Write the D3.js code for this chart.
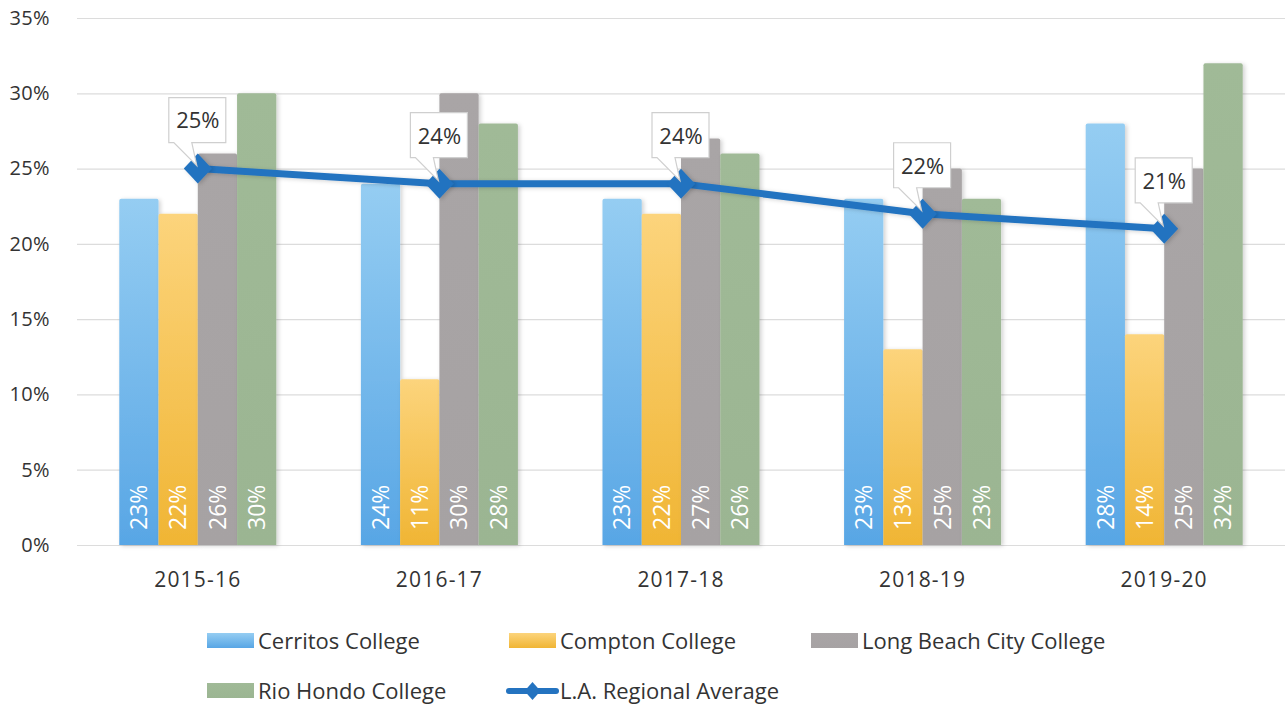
<!DOCTYPE html>
<html>
<head>
<meta charset="utf-8">
<script src="https://cdn.jsdelivr.net/npm/d3@7"></script>
<style>
  body { margin: 0; background: #fff; }
  text { font-family: "Open Sans", "Noto Sans", sans-serif; }
</style>
</head>
<body>
<svg id="chart" width="1287" height="711"></svg>
<script>
let years = ["2015-16", "2016-17", "2017-18", "2018-19", "2019-20"];
let colleges = ["Cerritos College", "Compton College", "Long Beach City College", "Rio Hondo College"];
let cerritos = [23, 24, 23, 23, 28];
let compton = [22, 11, 22, 13, 14];
let longBeach = [26, 30, 27, 25, 25];
let rioHondo = [30, 28, 26, 23, 32];
let regionalAvg = [25, 24, 24, 22, 21];
let yTicks = [0, 5, 10, 15, 20, 25, 30, 35];

let seriesValues = [cerritos, compton, longBeach, rioHondo];
let gradStops = [["#95cdf2", "#58a6e5"], ["#fcd47c", "#f0b534"], ["#a9a5a6", "#a6a2a3"], ["#a0ba97", "#9bb592"]];
let lineColor = "#2473c0";

let margin = {top: 18, right: 2, bottom: 166, left: 77};
let width = 1287, height = 711;
let plotW = width - margin.left - margin.right;
let plotH = height - margin.top - margin.bottom;

let svg = d3.select("#chart");
let defs = svg.append("defs");

gradStops.forEach(function (s, i) {
    let g = defs.append("linearGradient").attr("id", "grad" + i)
        .attr("x1", 0).attr("y1", 0).attr("x2", 0).attr("y2", 1);
    g.append("stop").attr("offset", "0%").attr("stop-color", s[0]);
    g.append("stop").attr("offset", "100%").attr("stop-color", s[1]);
});

let shadow = defs.append("filter").attr("id", "shadow")
    .attr("x", "-20%").attr("y", "-20%").attr("width", "150%").attr("height", "150%");
shadow.append("feDropShadow").attr("dx", 2).attr("dy", 1).attr("stdDeviation", 2)
    .attr("flood-color", "#000").attr("flood-opacity", 0.18);

let chart = svg.append("g").attr("transform", "translate(" + margin.left + "," + margin.top + ")");

let x = d3.scaleBand().domain(years).range([0, plotW]).paddingInner(0.35).paddingOuter(0.175);
let xSub = d3.scaleBand().domain(d3.range(colleges.length)).range([0, x.bandwidth()]);
let y = d3.scaleLinear().domain([0, 35]).range([plotH, 0]);

// gridlines
chart.append("g").attr("class", "grid")
    .call(d3.axisLeft(y).tickValues(yTicks).tickSize(-plotW).tickFormat(""))
    .call(g => g.select(".domain").remove())
    .call(g => g.selectAll("line").attr("stroke", "#dcdcdc").attr("stroke-width", 1.2));

// y labels
chart.append("g")
    .call(d3.axisLeft(y).tickValues(yTicks).tickSize(0).tickPadding(27).tickFormat(d => d + "%"))
    .call(g => g.select(".domain").remove())
    .call(g => g.selectAll("text").attr("fill", "#333").style("font-size", "20px").style("letter-spacing", "0.4px"));

// x labels
chart.append("g").attr("transform", "translate(0," + plotH + ")")
    .call(d3.axisBottom(x).tickSize(0).tickPadding(27))
    .call(g => g.select(".domain").remove())
    .call(g => g.selectAll("text").attr("fill", "#333").style("font-size", "21px").style("letter-spacing", "1.2px"));

// bars
let groups = chart.selectAll(".year").data(years).enter().append("g")
    .attr("class", "year")
    .attr("transform", d => "translate(" + x(d) + ",0)");

function topRounded(x0, y0, w, h, r) {
    return "M" + x0 + "," + (y0 + h) + "V" + (y0 + r) + "Q" + x0 + "," + y0 + " " + (x0 + r) + "," + y0 +
        "H" + (x0 + w - r) + "Q" + (x0 + w) + "," + y0 + " " + (x0 + w) + "," + (y0 + r) + "V" + (y0 + h) + "Z";
}

groups.each(function (yr, yi) {
    let g = d3.select(this);
    let vals = seriesValues.map(s => s[yi]);
    g.selectAll("path.bar").data(vals).enter().append("path")
        .attr("class", "bar")
        .attr("d", (d, i) => topRounded(xSub(i), y(d), xSub.bandwidth(), plotH - y(d), 2))
        .attr("fill", (d, i) => "url(#grad" + i + ")")
        .attr("filter", "url(#shadow)");
    g.selectAll("text.val").data(vals).enter().append("text")
        .attr("class", "val")
        .attr("transform", (d, i) => "translate(" + (xSub(i) + xSub.bandwidth() / 2) + "," + (plotH - 15) + ") rotate(-90)")
        .attr("dy", "0.36em")
        .attr("fill", "#fff")
        .style("font-size", "23px")
        .text(d => d + "%");
});

// regional average line
let cx = d => x(d) + x.bandwidth() / 2;
let line = d3.line().x((d, i) => cx(years[i])).y(d => y(d));

chart.append("path").datum(regionalAvg)
    .attr("d", line)
    .attr("fill", "none")
    .attr("stroke", lineColor)
    .attr("stroke-width", 7)
    .attr("filter", "url(#shadow)");

chart.selectAll(".marker").data(regionalAvg).enter().append("path")
    .attr("class", "marker")
    .attr("transform", (d, i) => "translate(" + cx(years[i]) + "," + y(d) + ")")
    .attr("d", "M0,-15L14,0L0,15L-14,0Z")
    .attr("fill", lineColor)
    .attr("filter", "url(#shadow)");

// callouts
let callouts = chart.selectAll(".callout").data(regionalAvg).enter().append("g")
    .attr("class", "callout")
    .attr("transform", (d, i) => "translate(" + cx(years[i]) + "," + y(d) + ")");

callouts.append("path")
    .attr("d", "M-29,-71H28V-26H-6L-1,-3L-24,-26H-29Z")
    .attr("fill", "#fff")
    .attr("stroke", "#cfcfcf")
    .attr("stroke-width", 1.2);

callouts.append("text")
    .attr("x", 0).attr("y", -48).attr("dy", "0.36em")
    .attr("text-anchor", "middle")
    .attr("fill", "#333")
    .style("font-size", "22px")
    .text(d => d + "%");

// legend
let legendItems = colleges.map((c, i) => ({name: c, type: "bar", i: i}))
    .concat([{name: "L.A. Regional Average", type: "line"}]);
let legendPos = [[207, 641], [509, 641], [811, 641], [207, 691], [509, 691]];

let legend = svg.selectAll(".legend").data(legendItems).enter().append("g")
    .attr("class", "legend")
    .attr("transform", (d, i) => "translate(" + legendPos[i][0] + "," + legendPos[i][1] + ")");

legend.filter(d => d.type === "bar").append("rect")
    .attr("x", 0).attr("y", -8).attr("width", 47).attr("height", 15)
    .attr("fill", d => "url(#grad" + d.i + ")");

let lg = legend.filter(d => d.type === "line");
lg.append("line").attr("x1", 0).attr("x2", 47).attr("y1", 0).attr("y2", 0)
    .attr("stroke", lineColor).attr("stroke-width", 6).attr("stroke-linecap", "round");
lg.append("path").attr("transform", "translate(23.5,0)").attr("d", "M0,-9L8,0L0,9L-8,0Z").attr("fill", lineColor);

legend.append("text")
    .attr("x", 51).attr("y", 0).attr("dy", "0.35em")
    .attr("fill", "#333")
    .style("font-size", "22px")
    .text(d => d.name);
</script>
</body>
</html>
